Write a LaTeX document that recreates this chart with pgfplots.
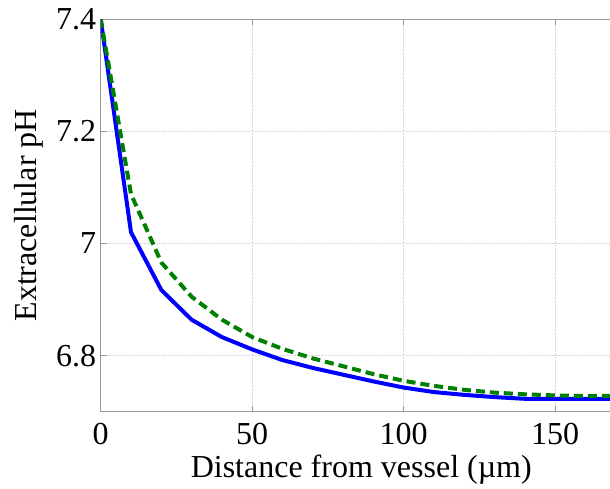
\documentclass[border=0pt]{standalone}
\usepackage{fontspec}
\setmainfont{Liberation Serif}
\usepackage{pgfplots}
\pgfplotsset{compat=1.18}
\begin{document}
\begin{tikzpicture}[x=1pt,y=1pt]
\path[use as bounding box] (-100.7pt,-76.3pt) rectangle (509.3pt,411.7pt);
\begin{axis}[
  at={(0,0)}, anchor=south west,
  scale only axis,
  width=521.2pt, height=392.7pt,
  xmin=0, xmax=172, ymin=6.7, ymax=7.4,
  xtick={0,50,100,150},
  ytick={6.8,7,7.2,7.4},
  yticklabels={6.8,7,7.2,7.4},
  /pgf/number format/assume math mode=true,
  tick align=inside,
  major tick length=6pt,
  tick style={gray!80, line width=0.8pt},
  axis line style={gray!80, line width=1pt},
  grid=major,
  grid style={densely dotted, gray!30, line width=0.6pt},
  ticklabel style={font=\fontsize{32}{36}\selectfont},
  label style={font=\fontsize{32}{36}\selectfont},
  xticklabel style={yshift=-8pt},
  yticklabel style={xshift=-1pt},
  xlabel={Distance from vessel (µm)},
  ylabel={Extracellular pH},
  xlabel style={yshift=-3pt},
  ylabel style={yshift=6pt},
  clip=true,
]
\addplot[blue, line width=4pt, line join=round] coordinates {
(0,7.4) (10,7.02) (20,6.917) (30,6.864) (40,6.833) (50,6.811) (60,6.792)
(70,6.778) (80,6.766) (90,6.754) (100,6.743) (110,6.735) (120,6.730)
(130,6.726) (140,6.723) (150,6.723) (160,6.723) (170,6.723)};
\addplot[color={rgb,255:red,0;green,128;blue,0}, line width=4pt, dash pattern=on 9pt off 5pt] coordinates {
(0,7.4) (10,7.088) (20,6.966) (30,6.905) (40,6.864) (50,6.833) (60,6.812)
(70,6.795) (80,6.781) (90,6.767) (100,6.755) (110,6.746) (120,6.739)
(130,6.734) (140,6.731) (150,6.729) (160,6.728) (170,6.728)};
\end{axis}
\end{tikzpicture}
\end{document}
